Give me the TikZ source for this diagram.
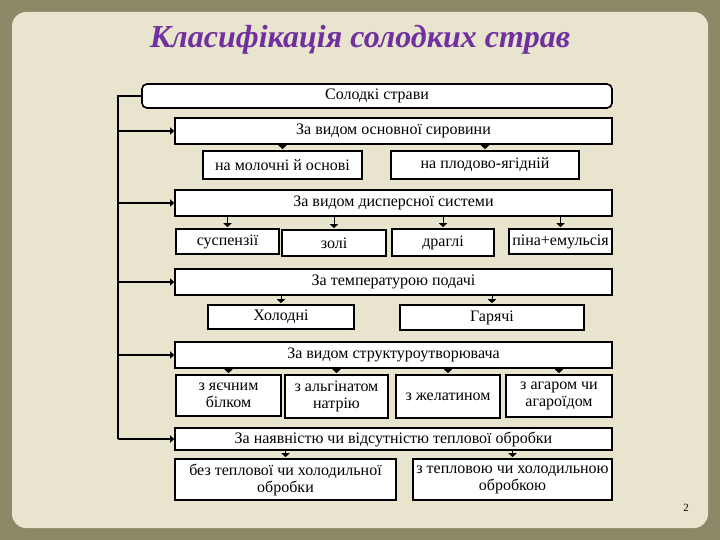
\documentclass[tikz,border=0pt]{standalone}
\usepackage{fontspec}
\setmainfont{Liberation Serif}
\usetikzlibrary{arrows.meta}
\begin{document}
\begin{tikzpicture}[x=1pt,y=-1pt,
  bx/.style={draw=black,line width=1.6pt,fill=white,inner sep=0pt,font=\fontsize{16}{17}\selectfont,align=center},
  arr/.style={line width=1.3pt,-{Triangle[width=7pt,length=4pt]}},
  dn/.style={line width=1pt,-{Triangle[width=8pt,length=4pt]},shorten >=1pt}]
\useasboundingbox (0,0) rectangle (720,540);
\fill[gray!55!olive!70!black!80] (0,0) rectangle (720,540);
\fill[rounded corners=14pt,fill={rgb,255:red,232;green,228;blue,206}] (12,12) rectangle (708,528);
\node[font=\bfseries\itshape\fontsize{32}{34}\selectfont,text={rgb,255:red,112;green,48;blue,160}] (title) at (360,40) {Класифікація солодких страв};
\newcommand{\bxat}[5]{\node[bx,minimum width={#3-#1},minimum height={#4-#2}] (#5) at ({(#1+#3)/2},{(#2+#4)/2})}
\node[bx,rounded corners=5pt,minimum width=470,minimum height=24] (root) at (377,96) {Солодкі страви};
\bxat{175}{118}{612}{144}{c1} {За видом основної сировини};
\bxat{203}{151}{362}{179}{a1} {на молочні й основі};
\bxat{391}{151}{579}{179}{a2} {на плодово-ягідній};
\bxat{175}{190}{612}{216}{c2} {За видом дисперсної системи};
\bxat{176}{229}{279}{254}{b1} {суспензії};
\bxat{282}{230}{386}{256}{b2} {золі};
\bxat{392}{229}{494}{256}{b3} {драглі};
\bxat{509}{229}{612}{254}{b4} {піна+емульсія};
\bxat{175}{269}{612}{295}{c3} {За температурою подачі};
\bxat{208}{305}{354}{329}{d1} {Холодні};
\bxat{400}{305}{584}{330}{d2} {Гарячі};
\bxat{175}{342}{612}{368}{c4} {За видом структуроутворювача};
\bxat{176}{375}{281}{416}{e1} {з яєчним\\білком};
\bxat{285}{375}{388}{418}{e2} {з альгінатом\\натрію};
\bxat{396}{375}{500}{418}{e3} {з желатином};
\bxat{506}{375}{612}{417}{e4} {з агаром чи\\агароїдом};
\bxat{175}{428}{612}{450}{c5} {За наявністю чи відсутністю теплової обробки};
\bxat{175}{459}{396}{500}{f1} {без теплової чи холодильної\\обробки};
\bxat{413}{459}{612}{500}{f2} {з тепловою чи холодильною\\обробкою};
\coordinate (top) at (118,96);
\draw[line width=1.3pt] (root.west) -- (top) -- (top |- c5.west);
\foreach \c in {c1,c2,c3,c4,c5} \draw[arr] (top |- \c.west) -- (\c.west);
\foreach \c/\k in {c1/a1,c1/a2,c2/b1,c2/b2,c2/b3,c2/b4,c3/d1,c3/d2,c4/e1,c4/e2,c4/e3,c4/e4,c5/f1,c5/f2}
  \draw[dn] (\c.south -| \k.north) -- (\k.north);
\node[font=\fontsize{11}{12}\selectfont] (pg) at (686,508) {2};
\end{tikzpicture}
\end{document}
